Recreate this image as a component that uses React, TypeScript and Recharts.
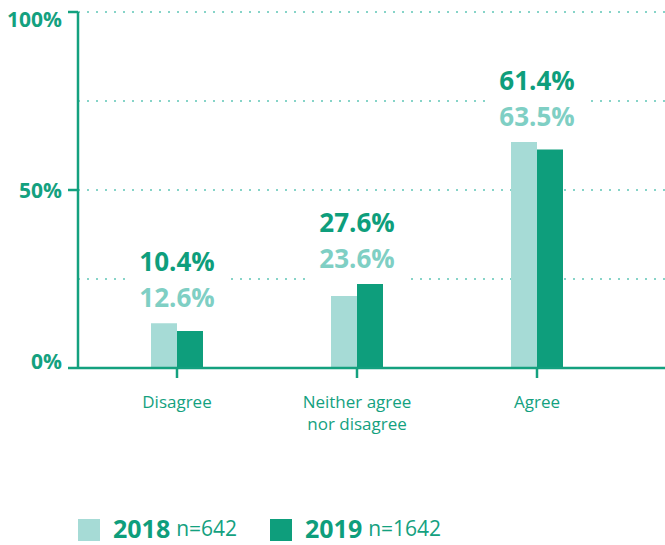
import { BarChart, Bar, XAxis, YAxis, CartesianGrid, LabelList } from "recharts";

const categories = ["Disagree", "Neither agree nor disagree", "Agree"];
const categoryLines = [["Disagree"], ["Neither agree", "nor disagree"], ["Agree"]];
const values2018 = [12.6, 20.2, 63.5];
const values2019 = [10.4, 23.6, 61.4];
const labels2018 = ["12.6%", "23.6%", "63.5%"];
const labels2019 = ["10.4%", "27.6%", "61.4%"];
const gridTicks = [0, 25, 50, 75, 100];
const labelledTicks = [0, 50, 100];
const seriesNames = ["2018", "2019"];
const sampleSizes = ["n=642", "n=1642"];

const LIGHT = "#a6dbd6";
const DARK = "#0e9e7c";
const AXIS = "#14a17f";
const LIGHT_TEXT = "#7fcfc4";
const FONT = "'Open Sans', sans-serif";

const data = categories.map((c, i) => ({
  category: c,
  y2018: values2018[i],
  y2019: values2019[i],
}));

// only 0, 50 and 100 get a label and a tick mark; 25 and 75 are grid only
function PercentTick({ x, y, payload }: any) {
  if (!labelledTicks.includes(payload.value)) return null;
  const shift = payload.value === 100 ? 7 : payload.value === 0 ? -7 : 0;
  return (
    <g>
      <line x1={x + 6} x2={x + 16} y1={y} y2={y} stroke={AXIS} strokeWidth={2.5} />
      <text
        x={x}
        y={y + shift}
        textAnchor="end"
        dominantBaseline="central"
        fill={AXIS}
        fontFamily={FONT}
        fontWeight={700}
        fontSize={21}
      >
        {payload.value}%
      </text>
    </g>
  );
}

function CategoryTick({ x, y, payload }: any) {
  const lines = categoryLines[categories.indexOf(payload.value)] ?? [payload.value];
  return (
    <text x={x} y={y} textAnchor="middle" fill={AXIS} fontFamily={FONT} fontSize={17}>
      {lines.map((l, i) => (
        <tspan key={i} x={x} dy={i === 0 ? "0.71em" : 22}>
          {l}
        </tspan>
      ))}
    </text>
  );
}

// both labels sit above the taller bar of the group, centred on the group
function GroupLabel(props: any) {
  const vb = props.viewBox ?? props;
  const index = props.index;
  const { x, y, height } = vb;
  if (index == null || !height) return null;
  const unit = height / values2019[index];
  const base = y + height;
  const top = Math.min(y, base - values2018[index] * unit);
  const cx = x;
  return (
    <g>
      <rect x={cx - 52} y={top - 82} width={104} height={79} fill="#fff" />
      <text
        x={cx}
        y={top - 62}
        textAnchor="middle"
        dominantBaseline="central"
        fill={DARK}
        fontFamily={FONT}
        fontWeight={700}
        fontSize={26}
      >
        {labels2019[index]}
      </text>
      <text
        x={cx}
        y={top - 26}
        textAnchor="middle"
        dominantBaseline="central"
        fill={LIGHT_TEXT}
        fontFamily={FONT}
        fontWeight={700}
        fontSize={26}
      >
        {labels2018[index]}
      </text>
    </g>
  );
}

export default function App() {
  const colors = [LIGHT, DARK];
  const legendLeft = [78, 270];
  return (
    <div style={{ position: "absolute", left: 0, top: 0, width: 665, height: 545, background: "#fff" }}>
      <BarChart
        width={665}
        height={460}
        data={data}
        margin={{ top: 12, right: 0, bottom: 0, left: 0 }}
        barGap={0}
        barSize={26}
      >
        <CartesianGrid vertical={false} stroke="#86d4c8" strokeWidth={2} strokeDasharray="2 7" />
        <XAxis
          dataKey="category"
          height={92}
          interval={0}
          padding={{ left: 9, right: 38 }}
          axisLine={{ stroke: AXIS, strokeWidth: 2.5 }}
          tickLine={{ stroke: AXIS, strokeWidth: 2.5 }}
          tickSize={10}
          tickMargin={18}
          tick={<CategoryTick />}
        />
        <YAxis
          width={78}
          domain={[0, 100]}
          ticks={gridTicks}
          interval={0}
          axisLine={{ stroke: AXIS, strokeWidth: 2.5 }}
          tickLine={false}
          tickSize={10}
          tickMargin={6}
          tick={<PercentTick />}
        />
        <Bar dataKey="y2018" name={seriesNames[0]} fill={LIGHT} isAnimationActive={false} />
        <Bar dataKey="y2019" name={seriesNames[1]} fill={DARK} isAnimationActive={false}>
          <LabelList dataKey="y2019" content={<GroupLabel />} />
        </Bar>
      </BarChart>
      {seriesNames.map((name, i) => (
        <div
          key={name}
          style={{
            position: "absolute",
            left: legendLeft[i],
            top: 517,
            height: 22,
            lineHeight: "22px",
            display: "flex",
            alignItems: "center",
            fontFamily: FONT,
            color: DARK,
            whiteSpace: "nowrap",
          }}
        >
          <span style={{ display: "inline-block", width: 22, height: 22, marginTop: 4, background: colors[i] }} />
          <span style={{ marginLeft: 13, fontWeight: 700, fontSize: 25 }}>{name}</span>
          <span style={{ marginLeft: 6, fontSize: 21, color: AXIS }}>{sampleSizes[i]}</span>
        </div>
      ))}
    </div>
  );
}
